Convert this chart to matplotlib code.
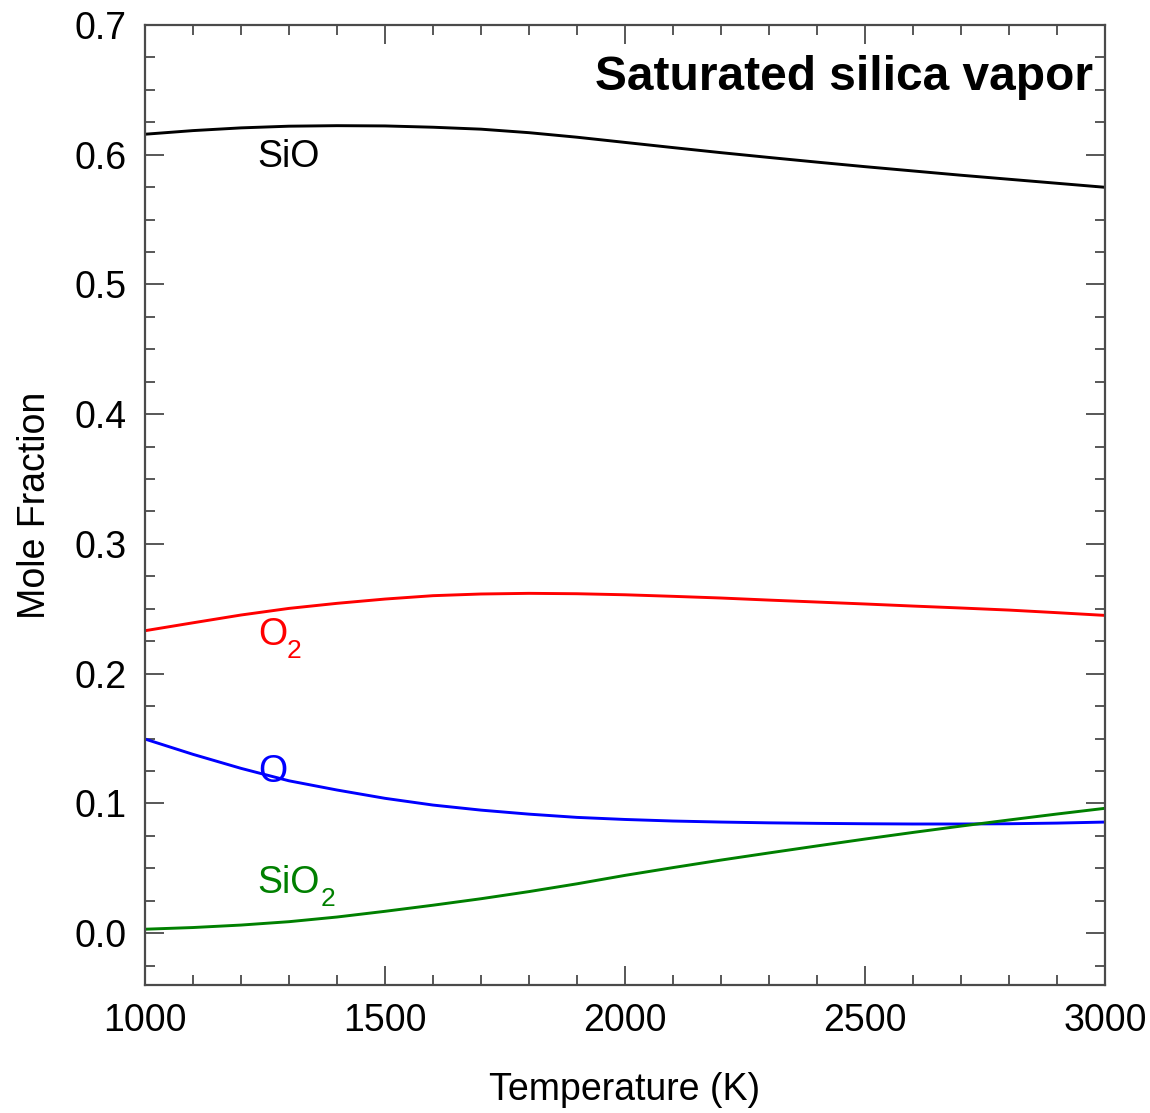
#!/usr/bin/env python3
import matplotlib
matplotlib.use("Agg")
import matplotlib.pyplot as plt
from matplotlib.ticker import MultipleLocator

plt.rcParams['font.family'] = ['Liberation Sans', 'DejaVu Sans']

# temperature grid (K) and mole fractions of the vapor species
temperature = [1000, 1100, 1200, 1300, 1400, 1500, 1600, 1700, 1800, 1900, 2000,
               2100, 2200, 2300, 2400, 2500, 2600, 2700, 2800, 2900, 3000]
x_sio = [0.6158, 0.6186, 0.6207, 0.6220, 0.6224, 0.6222, 0.6212, 0.6197, 0.6170, 0.6135, 0.6095,
         0.6055, 0.6016, 0.5979, 0.5943, 0.5908, 0.5875, 0.5842, 0.5811, 0.5780, 0.5749]
x_o2 = [0.2331, 0.2392, 0.2452, 0.2503, 0.2542, 0.2575, 0.2601, 0.2614, 0.2619, 0.2616, 0.2608,
        0.2596, 0.2583, 0.2567, 0.2552, 0.2537, 0.2521, 0.2506, 0.2490, 0.2470, 0.2449]
x_o = [0.1496, 0.1378, 0.1270, 0.1174, 0.1103, 0.1039, 0.0987, 0.0948, 0.0917, 0.0892, 0.0876,
       0.0864, 0.0856, 0.0850, 0.0846, 0.0843, 0.0841, 0.0841, 0.0843, 0.0848, 0.0856]
x_sio2 = [0.0030, 0.0043, 0.0062, 0.0088, 0.0124, 0.0168, 0.0215, 0.0265, 0.0320, 0.0380, 0.0445,
          0.0505, 0.0563, 0.0618, 0.0672, 0.0725, 0.0776, 0.0825, 0.0872, 0.0918, 0.0962]

# curve, colour, formula (base, subscript), label anchor (T, baseline)
species = [
    (x_sio, 'black', ('SiO', ''), (1235, 0.5906)),
    (x_o2, '#ff0000', ('O', '2'), (1235, 0.2220)),
    (x_o, '#0000ff', ('O', ''), (1235, 0.1164)),
    (x_sio2, '#008000', ('SiO', '2'), (1235, 0.0308)),
]

fig = plt.figure(figsize=(11.5, 11.13), dpi=100)
ax = fig.add_axes([145 / 1150, 128 / 1113, 960 / 1150, 960 / 1113])

for values, color, (base, sub), (lx, ly) in species:
    ax.plot(temperature, values, color=color, lw=2.1)
    t = ax.text(lx, ly, base, color=color, fontsize=27, ha='left', va='baseline')
    if sub:
        # subscript hung off the lower right corner of the formula
        ax.annotate(sub, xy=(1, 0), xycoords=t, xytext=(0, -3.5), textcoords='offset points',
                    color=color, fontsize=19, ha='left', va='baseline')

ax.set_xlim(1000, 3000)
ax.set_ylim(-0.04, 0.7)
ax.xaxis.set_major_locator(MultipleLocator(500))
ax.xaxis.set_minor_locator(MultipleLocator(100))
ax.yaxis.set_major_locator(MultipleLocator(0.1))
ax.yaxis.set_minor_locator(MultipleLocator(0.025))
ax.yaxis.set_major_formatter(plt.FormatStrFormatter('%.1f'))

spine_color = '#4a4a4a'
for s in ax.spines.values():
    s.set_color(spine_color)
    s.set_linewidth(1.6)
ax.tick_params(which='both', direction='in', top=True, right=True,
               color=spine_color, width=1.3, labelsize=27, pad=13)
ax.tick_params(which='major', length=14)
ax.tick_params(which='minor', length=7)

ax.set_xlabel('Temperature (K)', fontsize=27, labelpad=24)
ax.set_ylabel('Mole Fraction', fontsize=27, labelpad=16)

ax.text(0.9875, 0.932, 'Saturated silica vapor', transform=ax.transAxes,
        fontsize=34.5, fontweight='bold', ha='right', va='baseline')

fig.savefig('out.png', dpi=100)
plt.close(fig)
